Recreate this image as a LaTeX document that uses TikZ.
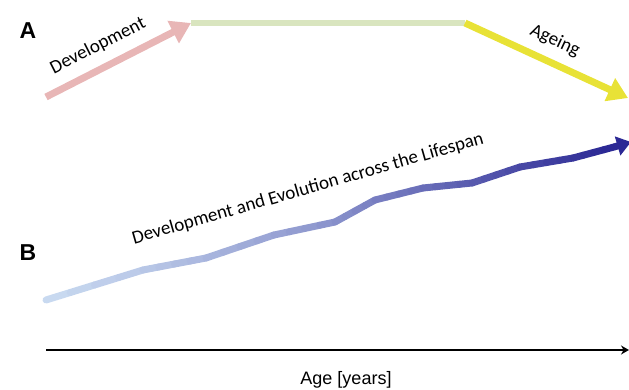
\documentclass[tikz,border=0pt]{standalone}
\usepackage{fontspec}
\setmainfont{Carlito}
\newfontfamily\axisfont{Liberation Sans}
\usetikzlibrary{arrows.meta,calc}

\definecolor{devpink}{HTML}{E8B6B6}
\definecolor{plateaugreen}{HTML}{D9E5BF}
\definecolor{ageyellow}{HTML}{E8E236}
\definecolor{trendlight}{HTML}{C8D9F0}
\definecolor{trenddark}{HTML}{2C2995}

\begin{document}
\begin{tikzpicture}[x=1pt, y=-1pt,
  every node/.style={font=\fontsize{19}{21}\selectfont},
  phase/.style={line width=7pt},
  trend/.style={line width=7pt, line cap=round},
  panel/.style={font=\axisfont\bfseries\fontsize{23}{24}\selectfont},
  axis/.style={line width=2.4pt, -{Stealth[length=8pt,width=9pt]}}]
  \useasboundingbox (0,0) rectangle (629,390);

  % A: development, plateau, ageing
  \node[panel] (panelA) at (28,31) {A};
  \coordinate (devstart) at (46,97);
  \coordinate (plateau) at (191,23);
  \coordinate (decline) at (465,23);
  \coordinate (ageend) at (628,98);
  \draw[phase, plateaugreen, line width=6pt] (plateau) -- (decline);
  \draw[phase, devpink, -{Triangle[length=20pt,width=24pt]}] (devstart) -- (plateau);
  \draw[phase, ageyellow, -{Triangle[length=20pt,width=24pt]}] (decline) -- (ageend);
  \node[rotate=27] (devtext) at (98,46) {Development};
  \node[rotate=-25] (agetext) at (555,41) {Ageing};

  % B: one rising line across the lifespan
  \node[panel] (panelB) at (28,253) {B};
  \foreach \x/\y [count=\i from 0] in {46/300, 143/270, 206/258, 274/235, 335/222,
      375/200, 423/188, 472/183, 520/167, 573/158, 614/147}
    \coordinate (b\i) at (\x,\y);
  \coordinate (tip) at (631,142);
  \foreach \i [evaluate=\i as \j using int(\i+1)] in {0,...,9}
    \foreach \k in {0,...,3} {
      \pgfmathsetmacro\ka{\k/4}
      \pgfmathsetmacro\kb{(\k+1)/4}
      \pgfmathtruncatemacro\mix{100-(\i*4+\k)*100/39}
      \draw[trend, color=trendlight!\mix!trenddark]
        ($(b\i)!\ka!(b\j)$) -- ($(b\i)!\kb!(b\j)$);
    }
  \draw[trend, trenddark, line cap=butt, -{Triangle[length=14pt,width=19pt]}] (b10) -- (tip);
  \node[rotate=16] (trendtext) at (308,189) {Development and Evolution across the Lifespan};

  % time axis
  \coordinate (axstart) at (46,350);
  \coordinate (axend) at (629,350);
  \draw[axis] (axstart) -- (axend);
  \node[font=\axisfont\fontsize{18}{20}\selectfont] (age) at (346,380) {Age [years]};
\end{tikzpicture}
\end{document}
